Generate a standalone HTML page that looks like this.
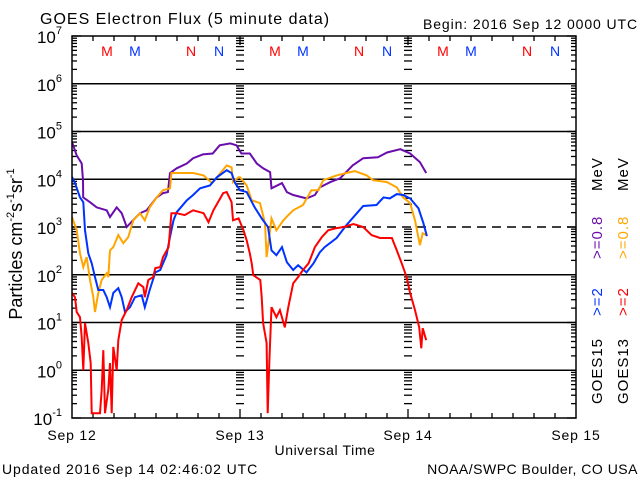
<!DOCTYPE html>
<html><head><meta charset="utf-8"><style>
html,body{margin:0;padding:0;background:#fff;}
svg{display:block;font-family:"Liberation Sans",sans-serif;}
</style></head><body>
<svg id="chart" width="640" height="480" viewBox="0 0 640 480">
<rect width="640" height="480" fill="#fff"/>
<text x="40" y="24" font-size="16" letter-spacing="1">GOES Electron Flux (5 minute data)</text>
<text x="638" y="29" font-size="14" letter-spacing="0.9" text-anchor="end">Begin: 2016 Sep 12 0000 UTC</text>
<text x="2" y="474" font-size="14" letter-spacing="0.9">Updated 2016 Sep 14 02:46:02 UTC</text>
<text x="638" y="474" font-size="14" letter-spacing="0.5" text-anchor="end">NOAA/SWPC Boulder, CO USA</text>
<text x="325" y="455" font-size="14" letter-spacing="0.6" text-anchor="middle">Universal Time</text>
<text transform="translate(22,244) rotate(-90)" font-size="18" text-anchor="middle">Particles cm<tspan font-size="11" dy="-8">-2</tspan><tspan dy="8">s</tspan><tspan font-size="11" dy="-8">-1</tspan><tspan dy="8">sr</tspan><tspan font-size="11" dy="-8">-1</tspan></text>
<g id="grid"></g>
<g id="series" clip-path="url(#pc)"></g>
<defs><clipPath id="pc"><rect x="72" y="36" width="504" height="382"/></clipPath></defs>
<rect x="72" y="36" width="504" height="382" fill="none" stroke="#000" stroke-width="1.5"/>
<g id="legend" font-size="15" letter-spacing="1">
<text transform="translate(602,404) rotate(-90)">GOES15</text>
<text transform="translate(602,316) rotate(-90)" fill="#0033ff">&gt;=2</text>
<text transform="translate(602,259) rotate(-90)" fill="#6a0dad">&gt;=0.8</text>
<text transform="translate(602,191) rotate(-90)">MeV</text>
<text transform="translate(628,404) rotate(-90)">GOES13</text>
<text transform="translate(628,316) rotate(-90)" fill="#ff0000">&gt;=2</text>
<text transform="translate(628,259) rotate(-90)" fill="#ffa500">&gt;=0.8</text>
<text transform="translate(628,191) rotate(-90)">MeV</text>
</g>
</svg>
<script>
// data: hours since 2016-09-12 00:00 UTC, log10 flux
const purpleH=[0,0.67,1.39,1.57,1.6,2.57,3.53,4.96,5.43,6.39,7.1,7.81,8.71,9.71,10.67,12.1,13.0,13.7,14.0,14.96,16.4,17.3,18.7,20.1,21.1,22.6,23.5,24.2,25.4,26.4,27.3,28.3,28.5,30.0,30.7,31.6,33.5,34.7,35.4,36.9,38.3,40.1,41.6,43.7,45.0,46.9,48.3,49.7,50.6];
const purpleV=[4.78,4.5,4.33,3.98,3.62,3.52,3.41,3.35,3.21,3.41,3.29,3.0,3.14,3.29,3.35,3.62,3.71,3.73,4.13,4.23,4.33,4.44,4.52,4.54,4.71,4.75,4.71,4.54,4.54,4.33,4.23,4.15,3.81,3.92,3.73,3.67,3.6,3.67,3.83,3.94,4.02,4.29,4.44,4.46,4.56,4.63,4.54,4.36,4.13];
const orangeH=[0,0.67,1.14,1.61,2.1,2.57,3.04,3.29,3.76,4.24,4.96,5.19,5.43,5.9,6.61,7.33,8.04,8.76,9.71,10.4,11.1,12.1,13.0,14.0,14.2,15.4,17.3,18.8,20.0,20.7,22.1,22.8,23.0,23.8,24.0,24.96,25.67,26.86,27.57,27.8,28.3,28.5,29.2,30.2,30.9,31.6,33.0,34.2,35.2,35.9,37.8,39.2,40.4,42.1,43.0,45.0,46.4,47.3,48.3,49.0,49.7,50.1,50.6];
const orangeV=[3.21,2.93,2.45,2.16,2.37,1.89,1.53,1.22,1.62,1.89,2.03,1.95,2.51,2.58,2.83,2.66,2.79,3.14,3.29,3.14,3.41,3.62,3.77,3.81,4.13,4.13,4.13,4.08,3.92,4.04,4.29,4.25,3.94,4.04,4.04,3.87,3.56,3.5,3.08,2.37,2.93,3.18,2.93,3.14,3.25,3.35,3.46,3.77,3.77,3.98,4.08,4.13,4.17,4.08,3.98,3.94,3.83,3.62,3.5,3.14,2.62,2.87,2.83];
const blueH=[0,0.43,1.14,1.61,1.86,2.33,2.81,3.29,3.76,4.47,4.96,5.43,5.9,6.61,7.1,7.57,8.29,9.0,9.96,10.4,11.1,11.9,12.6,13.5,14.0,14.5,14.96,16.4,17.3,18.3,19.7,20.7,22.1,22.8,23.3,24.0,24.96,26.1,27.1,28.0,28.5,29.2,30.0,30.7,31.6,32.3,33.5,34.5,35.4,36.1,37.8,39.2,40.7,41.6,43.5,44.5,45.4,46.4,47.3,48.3,49.5,50.2,50.7];
const blueV=[4.05,3.92,3.62,3.52,2.93,2.45,2.24,1.95,1.68,1.68,1.53,1.32,1.62,1.72,1.53,1.22,1.32,1.53,1.57,1.32,1.68,2.05,2.1,2.41,2.79,3.14,3.31,3.56,3.67,3.81,3.87,4.04,4.19,4.13,3.92,3.77,3.73,3.41,3.18,3.0,2.51,2.41,2.58,2.26,2.1,2.2,2.05,2.24,2.47,2.58,2.77,3.04,3.29,3.44,3.46,3.62,3.6,3.69,3.67,3.6,3.39,3.08,2.81];
const redH=[0,0.43,0.67,1.14,1.39,1.61,1.86,2.33,2.67,2.81,4.0,4.24,4.47,4.71,5.19,5.43,5.67,5.9,6.39,6.61,7.1,7.81,8.53,9.47,10.2,10.4,10.9,11.6,11.9,12.6,13.0,13.8,14.2,14.96,16.1,17.3,18.8,19.5,20.2,21.6,22.1,22.8,23.0,23.8,24.5,24.96,25.4,25.67,25.9,26.9,27.1,27.3,27.8,27.96,28.2,28.5,29.2,29.7,30.4,30.9,31.6,32.3,33.0,33.8,34.7,35.7,36.6,37.6,38.8,40.2,41.6,42.8,44.0,45.7,46.4,47.1,47.8,48.3,49.0,49.6,49.9,50.1,50.6];
const redV=[1.62,1.53,1.22,1.11,0.69,0.0,0.99,0.57,0.15,-0.9,-0.9,-0.41,0.42,-0.9,-0.41,0.15,-0.9,0.49,0.0,0.63,1.05,1.26,1.53,1.82,1.74,1.53,1.89,1.95,2.14,2.16,2.37,2.58,3.29,3.29,3.25,3.35,3.29,3.1,3.35,3.71,3.73,3.52,3.14,3.18,2.93,2.72,2.45,2.24,1.99,1.89,1.53,0.99,0.57,-0.9,0.21,1.32,1.11,1.26,0.9,1.32,1.82,1.95,2.1,2.24,2.58,2.79,2.93,2.97,3.0,3.06,3.0,2.83,2.77,2.77,2.51,2.24,1.95,1.62,1.26,0.9,0.46,0.88,0.63];
const xTickLabels=["Sep 12","Sep 13","Sep 14","Sep 15"];
const yExponents=[-1,0,1,2,3,4,5,6,7];
const markerLabels=["M","M","N","N"];
const markerHours=[5,9,17,21];

const NS="http://www.w3.org/2000/svg";
const X0=72,X1=576,Y0=36,Y1=418;
function xs(h){return X0+(X1-X0)*h/72;}
function ys(l){return Y1-(Y1-Y0)*(l+1)/8;}
function mk(tag,attrs,parent){const e=document.createElementNS(NS,tag);for(const k in attrs)e.setAttribute(k,attrs[k]);parent.appendChild(e);return e;}
const grid=document.getElementById('grid');
const svg=document.getElementById('chart');
yExponents.forEach(function(p){
  const y=ys(p);
  if(p>-1&&p<7){
    const ln=mk('line',{x1:X0,x2:X1,y1:y,y2:y,stroke:'#000','stroke-width':1.5},grid);
    if(p===3){ln.setAttribute('stroke-dasharray','9,6');}
    
    
  }
  const t=mk('text',{x:62,y:y+7,'font-size':17,'text-anchor':'end'},svg);
  
  
  t.textContent='10';
  const s=mk('tspan',{'font-size':11,dy:-9},t);
  s.textContent=String(p);
  if(p<7){
    for(let m=2;m<=9;m++){
      const yy=ys(p+Math.log10(m));
      [[X0,X0+5],[X1-5,X1],[xs(24)-4,xs(24)+4],[xs(48)-4,xs(48)+4]].forEach(function(a){
        const tk=mk('line',{x1:a[0],x2:a[1],y1:yy,y2:yy,stroke:'#000','stroke-width':1.3},grid);
        
        
      });
    }
  }
  [[X0,X0+9],[X1-9,X1]].forEach(function(a){
    const tk=mk('line',{x1:a[0],x2:a[1],y1:y,y2:y,stroke:'#000','stroke-width':1.3},grid);
    
    
  });
});
for(let h=3;h<72;h+=3){
  const x=xs(h);const L=(h%24===0)?9:5;
  const a=mk('line',{x1:x,x2:x,y1:Y1,y2:Y1-L,stroke:'#000','stroke-width':1.3},grid);
  
  
  const b=mk('line',{x1:x,x2:x,y1:Y0,y2:Y0+L,stroke:'#000','stroke-width':1.3},grid);
  
  
}
xTickLabels.forEach(function(lbl,i){
  const t=mk('text',{x:xs(i*24),y:440,'font-size':14,'letter-spacing':0.8,'text-anchor':'middle'},svg);
  
  
  t.textContent=lbl;
});
for(let d=0;d<3;d++){
  markerLabels.forEach(function(lbl,i){
    const t=mk('text',{x:xs(d*24+markerHours[i]),y:56,'font-size':14,'text-anchor':'middle',fill:(i%2===0)?'#ff0000':'#0033ff'},svg);
    
    
    t.textContent=lbl;
  });
}
const series=document.getElementById('series');
function draw(H,V,color,name){
  const pts=H.map(function(h,i){return xs(h).toFixed(1)+','+ys(V[i]).toFixed(1);}).join(' ');
  const p=mk('polyline',{points:pts,fill:'none',stroke:color,'stroke-width':2,'stroke-linejoin':'miter'},series);
  
  
}
draw(purpleH,purpleV,'#6a0dad','series-goes15-ge08');
draw(orangeH,orangeV,'#ffa500','series-goes13-ge08');
draw(blueH,blueV,'#0033ff','series-goes15-ge2');
draw(redH,redV,'#ff0000','series-goes13-ge2');
</script>
</body></html>
